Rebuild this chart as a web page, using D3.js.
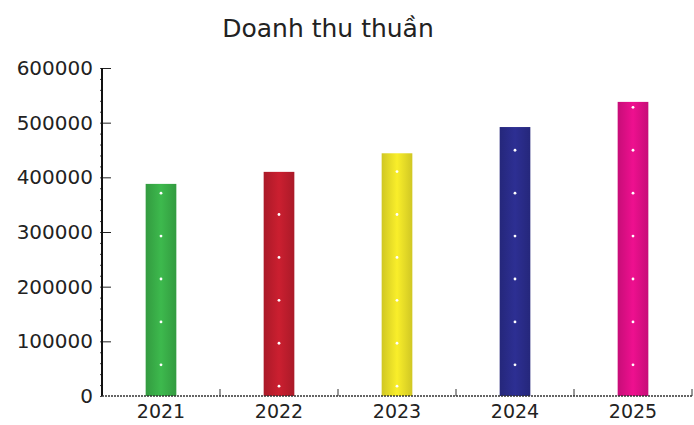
<!DOCTYPE html>
<html><head><meta charset="utf-8">
<script src="https://cdn.jsdelivr.net/npm/d3@7"></script>
<style>body{margin:0;background:#fff}svg{display:block}text{font-family:"DejaVu Sans",sans-serif;fill:#222}</style>
</head><body><svg id="c" width="694" height="425"></svg>
<script>
const title = "Doanh thu thuần";
const years = ["2021","2022","2023","2024","2025"];
const revenue = [388000, 410000, 444000, 492000, 538000];
const barColors = ["#3bb34a","#c41e2e","#f0e629","#2b2d8e","#e60f8a"];
const yTicks = [0,100000,200000,300000,400000,500000,600000];

(function(){
const svg = d3.select("#c");
const pLeft = 102, pRight = 692, pTop = 68, pBottom = 396;
const x = d3.scaleBand().domain(years).range([pLeft, pRight]).paddingInner(0.74).paddingOuter(0.37);
const y = d3.scaleLinear().domain([0, 600000]).range([pBottom, pTop]);

svg.append("text").attr("x", 328).attr("y", 37).attr("text-anchor","middle")
  .attr("font-size", 25).text(title);

const defs = svg.append("defs");
years.forEach((yr,i)=>{
  const g = defs.append("linearGradient").attr("id","g"+i).attr("x1","0").attr("x2","1");
  const c = d3.color(barColors[i]);
  g.append("stop").attr("offset","0").attr("stop-color", c.darker(0.4));
  g.append("stop").attr("offset","0.5").attr("stop-color", c.brighter(0.1));
  g.append("stop").attr("offset","1").attr("stop-color", c.darker(0.4));
});
svg.selectAll("rect.bar").data(revenue).join("rect").attr("class","bar")
  .attr("x",(d,i)=>x(years[i])).attr("width",x.bandwidth())
  .attr("y",d=>y(d)).attr("height",d=>y(0)-y(d))
  .attr("fill",(d,i)=>`url(#g${i})`);
// decorative white dots (texture)
const dotStart = [57000, 18000, 18000, 57000, 57000];
revenue.forEach((d,i)=>{
  const cx = x(years[i]) + x.bandwidth()/2;
  for (let v = dotStart[i]; v < d - 8000; v += 78500) {
    svg.append("circle").attr("cx",cx).attr("cy",y(v)).attr("r",1.4).attr("fill","#fff");
  }
});

const ya = svg.append("g").attr("transform",`translate(${pLeft},0)`)
  .call(d3.axisRight(y).tickValues(yTicks.slice(1)).tickSize(9).tickFormat(""));
ya.select(".domain").remove();
ya.selectAll("line").attr("stroke","#222");
svg.append("g").attr("transform",`translate(${pLeft},0)`)
  .call(d3.axisLeft(y).tickValues(d3.range(0,600001,20000)).tickSize(2).tickFormat(""))
  .call(g=>g.select(".domain").remove()).selectAll("line").attr("stroke","#444");
svg.selectAll("text.yl").data(yTicks).join("text").attr("class","yl")
  .attr("x", pLeft-9).attr("y", d=>y(d)+7).attr("text-anchor","end")
  .attr("font-size", 20).text(d=>d);
svg.append("line").attr("x1",pLeft).attr("x2",pLeft).attr("y1",pTop).attr("y2",pBottom)
  .attr("stroke","#111").attr("stroke-width",2);

svg.append("line").attr("x1",pLeft).attr("x2",pRight).attr("y1",pBottom).attr("y2",pBottom)
  .attr("stroke","#333").attr("stroke-width",1.5).attr("stroke-dasharray","2,1");
const step = x.step();
const bounds = years.map((d,i)=> x(d) + x.bandwidth()/2 + step/2);
svg.selectAll("line.xt").data(bounds).join("line").attr("class","xt")
  .attr("x1",d=>d).attr("x2",d=>d).attr("y1",pBottom).attr("y2",pBottom-7).attr("stroke","#333");
svg.selectAll("text.xl").data(years).join("text").attr("class","xl")
  .attr("x",d=>x(d)+x.bandwidth()/2).attr("y",418).attr("text-anchor","middle")
  .attr("font-size",19).text(d=>d);
})();
</script></body></html>
